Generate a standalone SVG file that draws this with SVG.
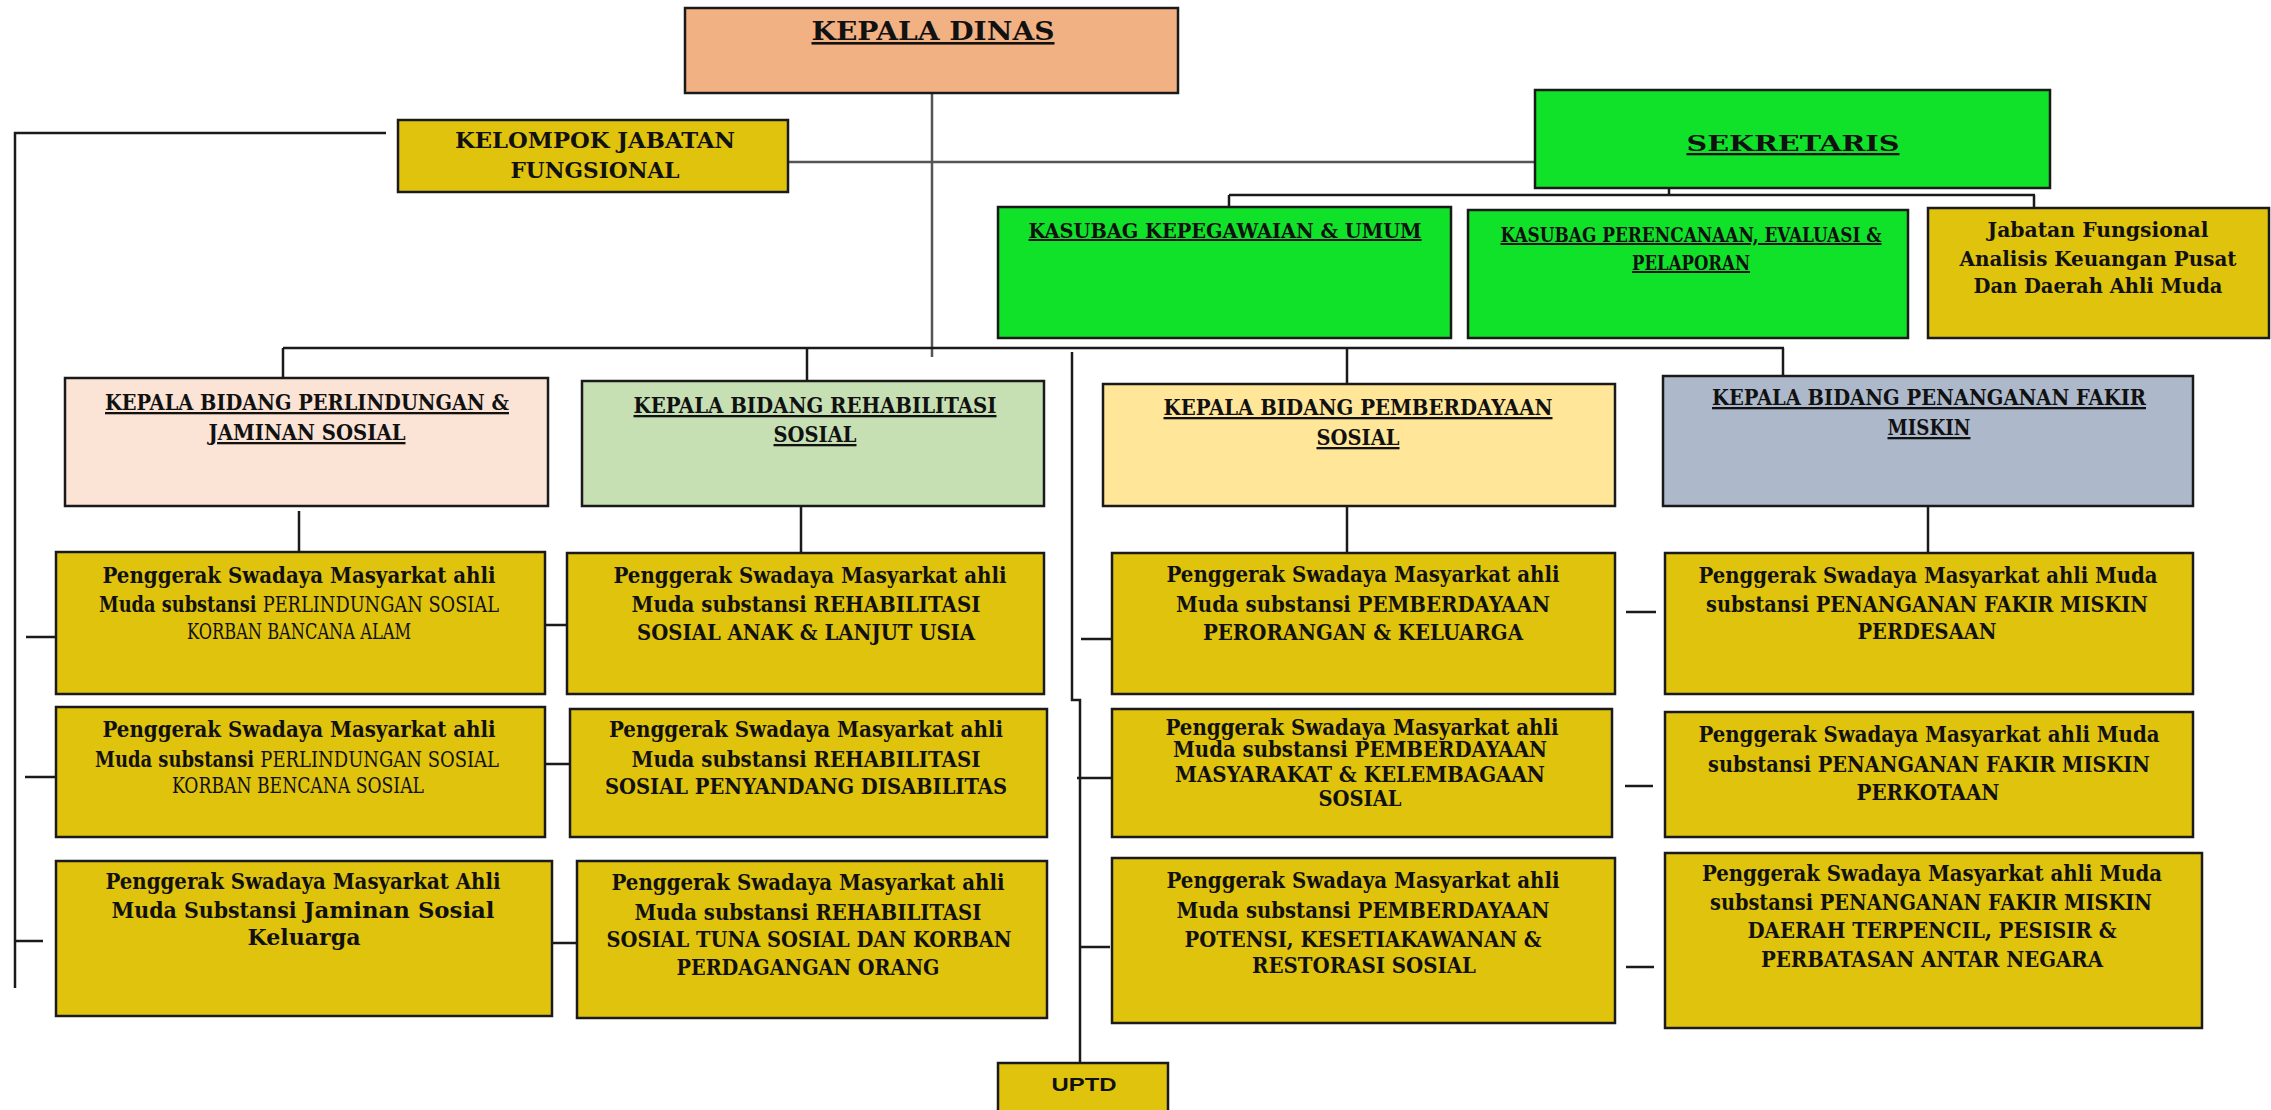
<svg xmlns="http://www.w3.org/2000/svg" width="2271" height="1110" viewBox="0 0 2271 1110">
<style>
.bx{stroke:#1a1a1a;stroke-width:2.5}
.gold{fill:#E0C30C}
.green{fill:#10E22A}
.t{font-family:"DejaVu Serif Condensed","DejaVu Serif",serif;font-stretch:condensed;font-weight:bold;fill:#111;text-anchor:middle}
.u{text-decoration:underline}
.h{font-size:23px}
.s{font-size:20px}
.p{font-size:21.5px}
.lt{font-weight:normal}
.wide{font-stretch:normal;font-family:"DejaVu Serif",serif}
.cn{fill:none;stroke:#1a1a1a;stroke-width:2.5}
.g{stroke:#555}
</style>
<rect width="2271" height="1110" fill="#fff"/>

<g id="connectors">
<path class="cn g" d="M932 93 V357"/>
<path class="cn" d="M386 133 H15 V988"/>
<path class="cn g" d="M788 162 H1535"/>
<path class="cn" d="M1669 188 V195 M1229 195 H2035 M1229 195 V207 M2034 195 V208"/>
<path class="cn" d="M283 348 H1784 M283 348 V378 M807 348 V381 M1347 348 V384 M1783 348 V376"/>
<path class="cn" d="M1072 352 V700 H1080 V1062"/>
<path class="cn" d="M299 511 V552 M801 506 V553 M1347 506 V553 M1928 506 V553"/>
<path class="cn" d="M26 637 H56 M25 777 H56 M15 941 H43"/>
<path class="cn" d="M545 625 H567 M542 764 H570 M547 943 H577"/>
<path class="cn" d="M1081 639 H1112 M1077 778 H1112 M1081 947 H1110"/>
<path class="cn" d="M1626 612 H1656 M1625 786 H1653 M1626 967 H1654"/>
</g>

<g id="kepala-dinas">
<rect class="bx" x="685" y="8" width="493" height="85" fill="#F2B183"/>
<text class="t u" x="933" y="40" font-size="26" textLength="243" lengthAdjust="spacingAndGlyphs">KEPALA DINAS</text>
</g>

<g id="kelompok-jabatan-fungsional">
<rect class="bx gold" x="398" y="120" width="390" height="72"/>
<text class="t" x="595" y="148" font-size="22" textLength="280" lengthAdjust="spacingAndGlyphs">KELOMPOK JABATAN</text>
<text class="t" x="595" y="178" font-size="22" textLength="169" lengthAdjust="spacingAndGlyphs">FUNGSIONAL</text>
</g>

<g id="sekretaris">
<rect class="bx green" x="1535" y="90" width="515" height="98"/>
<text class="t u h" x="1793" y="151" textLength="213" lengthAdjust="spacingAndGlyphs">SEKRETARIS</text>
</g>

<g id="kasubag-kepegawaian">
<rect class="bx green" x="998" y="207" width="453" height="131"/>
<text class="t u s" x="1225" y="238" textLength="393" lengthAdjust="spacingAndGlyphs">KASUBAG KEPEGAWAIAN &amp; UMUM</text>
</g>

<g id="kasubag-perencanaan">
<rect class="bx green" x="1468" y="210" width="440" height="128"/>
<text class="t u s" x="1691" y="242" textLength="381" lengthAdjust="spacingAndGlyphs">KASUBAG PERENCANAAN, EVALUASI &amp;</text>
<text class="t u s" x="1691" y="270" textLength="118" lengthAdjust="spacingAndGlyphs">PELAPORAN</text>
</g>

<g id="jabatan-fungsional-analisis">
<rect class="bx gold" x="1928" y="208" width="341" height="130"/>
<text class="t s" x="2098" y="237" textLength="221" lengthAdjust="spacingAndGlyphs">Jabatan Fungsional</text>
<text class="t s" x="2098" y="266" textLength="277" lengthAdjust="spacingAndGlyphs">Analisis Keuangan Pusat</text>
<text class="t s" x="2098" y="293" textLength="249" lengthAdjust="spacingAndGlyphs">Dan Daerah Ahli Muda</text>
</g>

<g id="bidang-perlindungan">
<rect class="bx" x="65" y="378" width="483" height="128" fill="#FBE4D6"/>
<text class="t u h" x="307" y="410" textLength="404" lengthAdjust="spacingAndGlyphs">KEPALA BIDANG PERLINDUNGAN &amp;</text>
<text class="t u h" x="307" y="440" textLength="197" lengthAdjust="spacingAndGlyphs">JAMINAN SOSIAL</text>
</g>

<g id="bidang-rehabilitasi">
<rect class="bx" x="582" y="381" width="462" height="125" fill="#C6E0B4"/>
<text class="t u h" x="815" y="413" textLength="363" lengthAdjust="spacingAndGlyphs">KEPALA BIDANG REHABILITASI</text>
<text class="t u h" x="815" y="442" textLength="83" lengthAdjust="spacingAndGlyphs">SOSIAL</text>
</g>

<g id="bidang-pemberdayaan">
<rect class="bx" x="1103" y="384" width="512" height="122" fill="#FFE699"/>
<text class="t u h" x="1358" y="415" textLength="389" lengthAdjust="spacingAndGlyphs">KEPALA BIDANG PEMBERDAYAAN</text>
<text class="t u h" x="1358" y="445" textLength="83" lengthAdjust="spacingAndGlyphs">SOSIAL</text>
</g>

<g id="bidang-fakir-miskin">
<rect class="bx" x="1663" y="376" width="530" height="130" fill="#ADB9CA"/>
<text class="t u h" x="1929" y="405" textLength="434" lengthAdjust="spacingAndGlyphs">KEPALA BIDANG PENANGANAN FAKIR</text>
<text class="t u h" x="1929" y="435" textLength="83" lengthAdjust="spacingAndGlyphs">MISKIN</text>
</g>

<g id="psm-perlindungan-bencana-alam">
<rect class="bx gold" x="56" y="552" width="489" height="142"/>
<text class="t p" x="299" y="583" textLength="393" lengthAdjust="spacingAndGlyphs">Penggerak Swadaya Masyarkat ahli</text>
<text class="t p" x="299" y="612" textLength="400" lengthAdjust="spacingAndGlyphs">Muda substansi <tspan class="lt">PERLINDUNGAN SOSIAL</tspan></text>
<text class="t p lt" x="299" y="639" textLength="224" lengthAdjust="spacingAndGlyphs">KORBAN BANCANA ALAM</text>
</g>

<g id="psm-rehabilitasi-anak">
<rect class="bx gold" x="567" y="553" width="477" height="141"/>
<text class="t p" x="810" y="583" textLength="393" lengthAdjust="spacingAndGlyphs">Penggerak Swadaya Masyarkat ahli</text>
<text class="t p" x="806" y="612" textLength="349" lengthAdjust="spacingAndGlyphs">Muda substansi REHABILITASI</text>
<text class="t p" x="806" y="640" textLength="338" lengthAdjust="spacingAndGlyphs">SOSIAL ANAK &amp; LANJUT USIA</text>
</g>

<g id="psm-pemberdayaan-perorangan">
<rect class="bx gold" x="1112" y="553" width="503" height="141"/>
<text class="t p" x="1363" y="582" textLength="393" lengthAdjust="spacingAndGlyphs">Penggerak Swadaya Masyarkat ahli</text>
<text class="t p" x="1363" y="612" textLength="374" lengthAdjust="spacingAndGlyphs">Muda substansi PEMBERDAYAAN</text>
<text class="t p" x="1363" y="640" textLength="320" lengthAdjust="spacingAndGlyphs">PERORANGAN &amp; KELUARGA</text>
</g>

<g id="psm-fakir-miskin-perdesaan">
<rect class="bx gold" x="1665" y="553" width="528" height="141"/>
<text class="t p" x="1928" y="583" textLength="459" lengthAdjust="spacingAndGlyphs">Penggerak Swadaya Masyarkat ahli Muda</text>
<text class="t p" x="1927" y="612" textLength="442" lengthAdjust="spacingAndGlyphs">substansi PENANGANAN FAKIR MISKIN</text>
<text class="t p" x="1927" y="639" textLength="139" lengthAdjust="spacingAndGlyphs">PERDESAAN</text>
</g>

<g id="psm-perlindungan-bencana-sosial">
<rect class="bx gold" x="56" y="707" width="489" height="130"/>
<text class="t p" x="299" y="737" textLength="393" lengthAdjust="spacingAndGlyphs">Penggerak Swadaya Masyarkat ahli</text>
<text class="t p" x="297" y="767" textLength="404" lengthAdjust="spacingAndGlyphs">Muda substansi <tspan class="lt">PERLINDUNGAN SOSIAL</tspan></text>
<text class="t p lt" x="298" y="793" textLength="252" lengthAdjust="spacingAndGlyphs">KORBAN BENCANA SOSIAL</text>
</g>

<g id="psm-rehabilitasi-disabilitas">
<rect class="bx gold" x="570" y="709" width="477" height="128"/>
<text class="t p" x="806" y="737" textLength="394" lengthAdjust="spacingAndGlyphs">Penggerak Swadaya Masyarkat ahli</text>
<text class="t p" x="806" y="767" textLength="349" lengthAdjust="spacingAndGlyphs">Muda substansi REHABILITASI</text>
<text class="t p" x="806" y="794" textLength="402" lengthAdjust="spacingAndGlyphs">SOSIAL PENYANDANG DISABILITAS</text>
</g>

<g id="psm-pemberdayaan-masyarakat">
<rect class="bx gold" x="1112" y="709" width="500" height="128"/>
<text class="t p" x="1362" y="735" textLength="393" lengthAdjust="spacingAndGlyphs">Penggerak Swadaya Masyarkat ahli</text>
<text class="t p" x="1360" y="757" textLength="374" lengthAdjust="spacingAndGlyphs">Muda substansi PEMBERDAYAAN</text>
<text class="t p" x="1360" y="782" textLength="370" lengthAdjust="spacingAndGlyphs">MASYARAKAT &amp; KELEMBAGAAN</text>
<text class="t p" x="1360" y="806" textLength="83" lengthAdjust="spacingAndGlyphs">SOSIAL</text>
</g>

<g id="psm-fakir-miskin-perkotaan">
<rect class="bx gold" x="1665" y="712" width="528" height="125"/>
<text class="t p" x="1929" y="742" textLength="461" lengthAdjust="spacingAndGlyphs">Penggerak Swadaya Masyarkat ahli Muda</text>
<text class="t p" x="1929" y="772" textLength="442" lengthAdjust="spacingAndGlyphs">substansi PENANGANAN FAKIR MISKIN</text>
<text class="t p" x="1928" y="800" textLength="143" lengthAdjust="spacingAndGlyphs">PERKOTAAN</text>
</g>

<g id="psm-jaminan-sosial-keluarga">
<rect class="bx gold" x="56" y="861" width="496" height="155"/>
<text class="t p" x="303" y="889" textLength="395" lengthAdjust="spacingAndGlyphs">Penggerak Swadaya Masyarkat Ahli</text>
<text class="t p" x="303" y="918" textLength="383" lengthAdjust="spacingAndGlyphs">Muda Substansi <tspan class="wide">Jaminan Sosial</tspan></text>
<text class="t p wide" x="304" y="945" textLength="113" lengthAdjust="spacingAndGlyphs">Keluarga</text>
</g>

<g id="psm-rehabilitasi-tuna-sosial">
<rect class="bx gold" x="577" y="861" width="470" height="157"/>
<text class="t p" x="808" y="890" textLength="393" lengthAdjust="spacingAndGlyphs">Penggerak Swadaya Masyarkat ahli</text>
<text class="t p" x="808" y="920" textLength="347" lengthAdjust="spacingAndGlyphs">Muda substansi REHABILITASI</text>
<text class="t p" x="809" y="947" textLength="405" lengthAdjust="spacingAndGlyphs">SOSIAL TUNA SOSIAL DAN KORBAN</text>
<text class="t p" x="808" y="975" textLength="263" lengthAdjust="spacingAndGlyphs">PERDAGANGAN ORANG</text>
</g>

<g id="psm-pemberdayaan-potensi">
<rect class="bx gold" x="1112" y="858" width="503" height="165"/>
<text class="t p" x="1363" y="888" textLength="393" lengthAdjust="spacingAndGlyphs">Penggerak Swadaya Masyarkat ahli</text>
<text class="t p" x="1363" y="918" textLength="373" lengthAdjust="spacingAndGlyphs">Muda substansi PEMBERDAYAAN</text>
<text class="t p" x="1363" y="947" textLength="357" lengthAdjust="spacingAndGlyphs">POTENSI, KESETIAKAWANAN &amp;</text>
<text class="t p" x="1364" y="973" textLength="224" lengthAdjust="spacingAndGlyphs">RESTORASI SOSIAL</text>
</g>

<g id="psm-fakir-miskin-terpencil">
<rect class="bx gold" x="1665" y="853" width="537" height="175"/>
<text class="t p" x="1932" y="881" textLength="460" lengthAdjust="spacingAndGlyphs">Penggerak Swadaya Masyarkat ahli Muda</text>
<text class="t p" x="1931" y="910" textLength="442" lengthAdjust="spacingAndGlyphs">substansi PENANGANAN FAKIR MISKIN</text>
<text class="t p" x="1932" y="938" textLength="369" lengthAdjust="spacingAndGlyphs">DAERAH TERPENCIL, PESISIR &amp;</text>
<text class="t p" x="1932" y="967" textLength="342" lengthAdjust="spacingAndGlyphs">PERBATASAN ANTAR NEGARA</text>
</g>

<g id="uptd">
<rect class="bx gold" x="998" y="1063" width="170" height="60"/>
<text x="1084" y="1091" font-family="Liberation Sans, Arial, sans-serif" font-weight="bold" font-size="19" text-anchor="middle" fill="#111" textLength="65" lengthAdjust="spacingAndGlyphs">UPTD</text>
</g>
</svg>
